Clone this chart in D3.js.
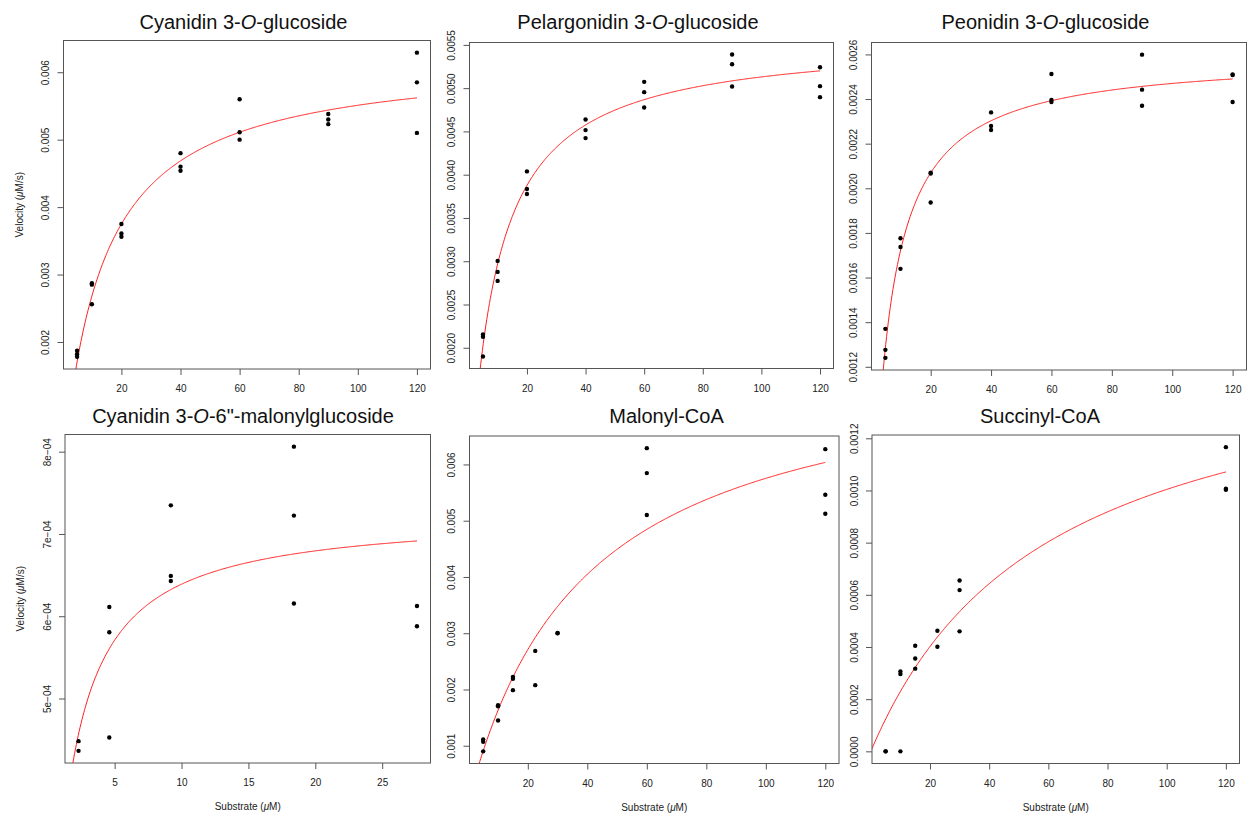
<!DOCTYPE html>
<html><head><meta charset="utf-8">
<script src="https://cdn.jsdelivr.net/npm/d3@7"></script>
<style>
body{margin:0;background:#fff}
svg text{font-family:"Liberation Sans",Arial,Helvetica,sans-serif}
</style></head>
<body><svg id="chart" width="1248" height="816"></svg>
<script>
// ---------------- data ----------------
// Cyanidin 3-O-glucoside
const cy3gS = [5,5,5,10,10,10,20,20,20,40,40,40,60,60,60,90,90,90,120,120,120];
const cy3gV = [0.00187,0.00182,0.00178, 0.00287,0.00285,0.00256, 0.00375,0.00361,0.00356,
               0.00480,0.00460,0.00454, 0.00560,0.00511,0.00500, 0.00538,0.00530,0.00523,
               0.00629,0.00585,0.00510];
// Pelargonidin 3-O-glucoside
const pg3gS = [5,5,5,10,10,10,20,20,20,40,40,40,60,60,60,90,90,90,120,120,120];
const pg3gV = [0.002154,0.002127,0.00190, 0.003004,0.002877,0.002773, 0.004038,0.003835,0.003777,
               0.004638,0.004515,0.004423, 0.005073,0.004954,0.004777, 0.005388,0.005277,0.005019,
               0.005242,0.005023,0.004896];
// Peonidin 3-O-glucoside
const pn3gS = [5,5,5,10,10,10,20,20,20,40,40,40,60,60,60,90,90,90,120,120,120];
const pn3gV = [0.001370,0.001276,0.001240, 0.001776,0.001737,0.001639, 0.002070,0.002066,0.001936,
               0.002340,0.002279,0.002261, 0.002512,0.002396,0.002387, 0.002599,0.002442,0.002370,
               0.002510,0.002508,0.002387];
// Cyanidin 3-O-6"-malonylglucoside
const cmgS = [2.3,2.3,4.6,4.6,4.6,9.2,9.2,9.2,18.4,18.4,18.4,27.6,27.6];
const cmgV = [4.482e-4,4.364e-4, 6.113e-4,5.806e-4,4.526e-4, 7.348e-4,6.490e-4,6.429e-4,
              8.061e-4,7.223e-4,6.154e-4, 6.125e-4,5.879e-4];
// Malonyl-CoA
const mcoaS = [5,5,5,10,10,10,15,15,15,22.5,22.5,30,30,60,60,60,120,120,120];
const mcoaV = [0.00111,0.00107,0.00090, 0.00172,0.00170,0.00145, 0.002225,0.002189,0.001988,
               0.002686,0.002077, 0.003005,0.003000, 0.006290,0.005846,0.005101,
               0.006272,0.005462,0.005124];
// Succinyl-CoA
const scoaS = [5,5,10,10,10,15,15,15,22.5,22.5,30,30,30,120,120,120];
const scoaV = [0,0, 0.000306,0.000296,0, 0.000405,0.000356,0.000317, 0.000462,0.000401,
               0.000655,0.000618,0.000460, 0.001166,0.001007,0.001003];

// Michaelis–Menten fit parameters
const fitVmax = [0.006242, 0.005581, 0.0025956, 7.254e-4, 0.008001, 0.0016065];
const fitKm   = [13.29, 8.8, 5.09, 1.353, 39.07, 60];

// titles: [before, italic, after]
const titleParts = [
  ["Cyanidin 3-","O","-glucoside"],
  ["Pelargonidin 3-","O","-glucoside"],
  ["Peonidin 3-","O","-glucoside"],
  ["Cyanidin 3-","O","-6\"-malonylglucoside"],
  ["Malonyl-CoA","",""],
  ["Succinyl-CoA","",""]
];
// tick values / labels
const xTicksMain = [20,40,60,80,100,120];
const xTicksMal  = [5,10,15,20,25];
const yTicks = [
  [0.002,0.003,0.004,0.005,0.006],
  [0.0020,0.0025,0.0030,0.0035,0.0040,0.0045,0.0050,0.0055],
  [0.0012,0.0014,0.0016,0.0018,0.0020,0.0022,0.0024,0.0026],
  [5e-4,6e-4,7e-4,8e-4],
  [0.001,0.002,0.003,0.004,0.005,0.006],
  [0,0.0002,0.0004,0.0006,0.0008,0.0010,0.0012]
];
const yTickLabels = [
  ["0.002","0.003","0.004","0.005","0.006"],
  ["0.0020","0.0025","0.0030","0.0035","0.0040","0.0045","0.0050","0.0055"],
  ["0.0012","0.0014","0.0016","0.0018","0.0020","0.0022","0.0024","0.0026"],
  ["5e\u221204","6e\u221204","7e\u221204","8e\u221204"],
  ["0.001","0.002","0.003","0.004","0.005","0.006"],
  ["0.0000","0.0002","0.0004","0.0006","0.0008","0.0010","0.0012"]
];

// ---------------- layout ----------------
const panels = [
  {S:cy3gS, V:cy3gV, xt:xTicksMain, box:[63.5,40.5,430.5,369],   tx:243.5, ty:29,  ylab:true,  xlab:false},
  {S:pg3gS, V:pg3gV, xt:xTicksMain, box:[469.5,42.5,833.5,368.5], tx:638,   ty:28.5,ylab:false, xlab:false},
  {S:pn3gS, V:pn3gV, xt:xTicksMain, box:[871.5,42.5,1246.5,370], tx:1045.5,ty:28.5,ylab:false, xlab:false},
  {S:cmgS,  V:cmgV,  xt:xTicksMal,  box:[65,434.5,430.5,763],    tx:243,   ty:423, ylab:true,  xlab:true},
  {S:mcoaS, V:mcoaV, xt:xTicksMain, box:[469.5,436,839,763.5],   tx:666.5, ty:423, ylab:false, xlab:true},
  {S:scoaS, V:scoaV, xt:xTicksMain, box:[872,435,1239.5,763.5],  tx:1040,  ty:423, ylab:false, xlab:true}
];

const svg = d3.select("#chart");
const ext = a => { const [lo,hi] = d3.extent(a); const r = hi-lo; return [lo-0.04*r, hi+0.04*r]; };

panels.forEach((p,i) => {
  const [x0,y0,x1,y1] = p.box;
  const x = d3.scaleLinear().domain(ext(p.S)).range([x0,x1]);
  const y = d3.scaleLinear().domain(ext(p.V)).range([y1,y0]);
  const g = svg.append("g");

  // clip
  const cid = "clip"+i;
  svg.append("clipPath").attr("id",cid).append("rect")
    .attr("x",x0).attr("y",y0).attr("width",x1-x0).attr("height",y1-y0);

  // fitted curve
  const sMax = d3.max(p.S);
  const curve = d3.range(0,401).map(k => {
    const s = sMax*k/400;
    return [s, fitVmax[i]*s/(fitKm[i]+s)];
  });
  g.append("path").attr("clip-path",`url(#${cid})`)
    .attr("d", d3.line().x(d=>x(d[0])).y(d=>y(d[1]))(curve))
    .attr("fill","none").attr("stroke","#ff2020").attr("stroke-width",1);

  // points
  g.append("g").selectAll("circle").data(p.S.map((s,k)=>[s,p.V[k]])).join("circle")
    .attr("cx",d=>x(d[0])).attr("cy",d=>y(d[1])).attr("r",2.2).attr("fill","#000");

  // box
  g.append("rect").attr("x",x0).attr("y",y0).attr("width",x1-x0).attr("height",y1-y0)
    .attr("fill","none").attr("stroke","#555").attr("stroke-width",1);

  // x axis
  const xa = g.append("g").attr("transform",`translate(0,${y1})`)
    .call(d3.axisBottom(x).tickValues(p.xt).tickSize(6).tickPadding(10).tickFormat(d3.format("d")));
  xa.select(".domain").remove();
  xa.selectAll("line").attr("stroke","#555");
  xa.selectAll("text").attr("fill","#222").style("font-size","10px");

  // y axis
  const labs = yTickLabels[i];
  const ya = g.append("g").attr("transform",`translate(${x0},0)`)
    .call(d3.axisLeft(y).tickValues(yTicks[i]).tickSize(6).tickFormat((d,k)=>labs[k]));
  ya.select(".domain").remove();
  ya.selectAll("line").attr("stroke","#555");
  ya.selectAll("text").attr("x",null).attr("dy",null).attr("y",null)
    .attr("text-anchor","middle").attr("transform","translate(-14.5,0) rotate(-90)")
    .attr("fill","#222").style("font-size","10px");

  // title
  const t = svg.append("text").attr("x",p.tx).attr("y",p.ty).attr("text-anchor","middle")
    .style("font-size","20px").attr("fill","#111");
  t.append("tspan").text(titleParts[i][0]);
  if (titleParts[i][1]) t.append("tspan").style("font-style","italic").text(titleParts[i][1]);
  if (titleParts[i][2]) t.append("tspan").text(titleParts[i][2]);

  // axis titles
  if (p.ylab) {
    const cy = (y0+y1)/2, cx = x0-41;
    const yl = svg.append("text").attr("transform",`translate(${cx},${cy}) rotate(-90)`)
      .attr("text-anchor","middle").style("font-size","10px").attr("fill","#222");
    yl.append("tspan").text("Velocity (");
    yl.append("tspan").style("font-style","italic").text("\u03bc");
    yl.append("tspan").text("M/s)");
  }
  if (p.xlab) {
    const xl = svg.append("text").attr("x",(x0+x1)/2).attr("y",y1+47)
      .attr("text-anchor","middle").style("font-size","10px").attr("fill","#222");
    xl.append("tspan").text("Substrate (");
    xl.append("tspan").style("font-style","italic").text("\u03bc");
    xl.append("tspan").text("M)");
  }
});
</script>
</body></html>
